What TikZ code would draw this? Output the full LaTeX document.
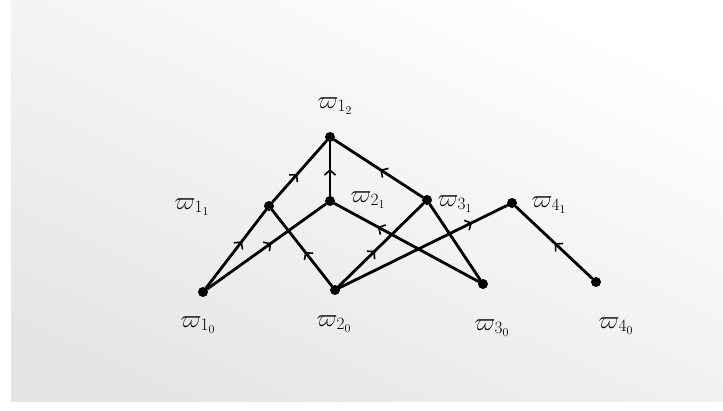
\documentclass[tikz,border=0pt]{standalone}
\usetikzlibrary{arrows.meta,decorations.markings}
\begin{document}
\begin{tikzpicture}[x=1pt,y=-1pt,
  dot/.style={circle,fill=black,minimum size=10pt,inner sep=0pt},
  lab/.style={font=\fontsize{25}{30}\selectfont,inner sep=1pt},
  edge/.style={line width=2.8pt,line cap=round,postaction={decorate},
    decoration={markings,mark=at position #1 with {\arrow[line width=1.6pt]{Straight Barb[length=5pt,width=11pt]}}}},
  edge/.default=0.5]
\useasboundingbox (0,0) rectangle (723,410);
\fill[white] (0,0) rectangle (723,410);
\shade[shading=axis,top color=white,bottom color=black!10,shading angle=-25] (11,0) rectangle (723,401);
% nodes
\node[dot] (w10) at (203,292) {};
\node[dot] (w20) at (335,290) {};
\node[dot] (w30) at (483,284) {};
\node[dot] (w40) at (596,282) {};
\node[dot] (w11) at (269,206) {};
\node[dot] (w21) at (330,201) {};
\node[dot] (w31) at (427,200) {};
\node[dot] (w41) at (512,203) {};
\node[dot] (w12) at (330,137) {};
% labels
\node[lab] (l12) at (335,106) {$\varpi_{1_2}$};
\node[lab] (l11) at (192,207) {$\varpi_{1_1}$};
\node[lab] (l21) at (368,200) {$\varpi_{2_1}$};
\node[lab] (l31) at (455,204) {$\varpi_{3_1}$};
\node[lab] (l41) at (549,205) {$\varpi_{4_1}$};
\node[lab] (l10) at (198,325) {$\varpi_{1_0}$};
\node[lab] (l20) at (334,324) {$\varpi_{2_0}$};
\node[lab] (l30) at (492,328) {$\varpi_{3_0}$};
\node[lab] (l40) at (616,326) {$\varpi_{4_0}$};
% edges
\draw[edge=0.6] (w10) -- (w11);
\draw[edge=0.54] (w10) -- (w21);
\draw[edge=0.46] (w11) -- (w12);
\draw[edge=0.5] (w21) -- (w12);
\draw[edge=0.48] (w31) -- (w12);
\draw[edge=0.45] (w20) -- (w11);
\draw[edge=0.7] (w30) -- (w21);
\draw[edge=0.43] (w20) -- (w31);
\draw[edge=0.79] (w20) -- (w41);
\draw[edge=0.49] (w40) -- (w41);
\draw[line width=2.8pt,line cap=round] (w31) -- (w30);
\end{tikzpicture}
\end{document}
